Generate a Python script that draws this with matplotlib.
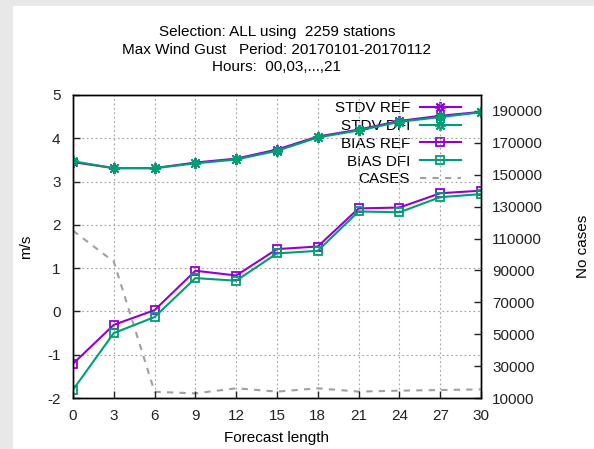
import matplotlib
matplotlib.use('Agg')
import matplotlib.pyplot as plt
from matplotlib.patches import Rectangle

plt.rcParams['font.family'] = ['Liberation Sans', 'DejaVu Sans']
plt.rcParams['font.size'] = 11
plt.rcParams['axes.unicode_minus'] = False

# ── Data ───────────────────────────────────────────────────────────────────────
lead = [0, 3, 6, 9, 12, 15, 18, 21, 24, 27, 30]
stdv_ref = [3.45, 3.31, 3.31, 3.44, 3.53, 3.74, 4.04, 4.20, 4.40, 4.52, 4.61]
stdv_dfi = [3.47, 3.31, 3.31, 3.42, 3.51, 3.71, 4.02, 4.18, 4.38, 4.49, 4.60]
bias_ref = [-1.21, -0.31, 0.03, 0.94, 0.83, 1.44, 1.50, 2.38, 2.40, 2.73, 2.79]
bias_dfi = [-1.81, -0.50, -0.13, 0.77, 0.71, 1.34, 1.40, 2.31, 2.29, 2.64, 2.71]
cases = [114900, 95500, 13900, 12900, 16100, 14000, 16100, 14000, 14600, 15000, 15400]

title_lines = ['Selection: ALL using  2259 stations',
               'Max Wind Gust   Period: 20170101-20170112',
               'Hours:  00,03,...,21']

purple = '#9400d3'
green = '#009e73'
grey = '#a0a0a0'

# ── Figure ─────────────────────────────────────────────────────────────────────
fig = plt.figure(figsize=(5.94, 4.49), dpi=100, facecolor='#e8e8e8')
fig.patches.append(Rectangle((13 / 594, 0), 1, 1 - 6 / 449, transform=fig.transFigure,
                             facecolor='white', edgecolor='none', zorder=-5))

ax = fig.add_axes([73 / 594, 1 - 398 / 449, 408 / 594, 303 / 449])
ax.set_facecolor('none')
ax2 = ax.twinx()
# data lines above the legend, as in gnuplot
ax.set_zorder(2)
ax2.set_zorder(1)

lw = 1.5
l1, = ax.plot(lead, stdv_ref, color=purple, lw=lw, marker=(8, 2, 0), ms=8, mew=1.3, label='STDV REF')
l2, = ax.plot(lead, stdv_dfi, color=green, lw=lw, marker=(8, 2, 0), ms=8, mew=1.3, label='STDV DFI')
l3, = ax.plot(lead, bias_ref, color=purple, lw=lw, marker='s', ms=6, mfc='none', mew=1.3, label='BIAS REF')
l4, = ax.plot(lead, bias_dfi, color=green, lw=lw, marker='s', ms=6, mfc='none', mew=1.3, label='BIAS DFI')
l5, = ax2.plot(lead, cases, color=grey, lw=1.5, ls=(0, (3, 3)), label='CASES')

ax.set_xlim(0, 30)
ax.set_ylim(-2, 5)
ax2.set_ylim(10000, 200000)
ax.set_xticks(lead)
ax.set_yticks(range(-2, 6))
ax2.set_yticks(range(10000, 200000, 20000))

ax.grid(True, color=grey, ls=(0, (1.5, 2.5)), lw=0.8)
ax.tick_params(direction='in', length=5, width=1, pad=8, labelsize=11, colors='#222222')
ax.tick_params(axis='y', pad=9)
ax2.tick_params(direction='in', length=5, width=1, pad=8, labelsize=11, colors='#222222')
for a in (ax, ax2):
    for s in a.spines.values():
        s.set_linewidth(1)

ax.set_xlabel('Forecast length', labelpad=6)
ax.set_ylabel('m/s', labelpad=10)
ax2.set_ylabel('No cases', labelpad=24)

leg = ax2.legend(handles=[l1, l2, l3, l4, l5], loc='upper right', bbox_to_anchor=(0.97, 1.005),
                 frameon=False, markerfirst=False, borderpad=0, handlelength=2.7,
                 handletextpad=0.65, labelspacing=0.25, fontsize=11)

for i, line in enumerate(title_lines):
    fig.text(277 / 594, 1 - (32 + 17.5 * i) / 449, line, ha='center', va='center', fontsize=11)

fig.savefig('out.png', dpi=100, facecolor=fig.get_facecolor())
